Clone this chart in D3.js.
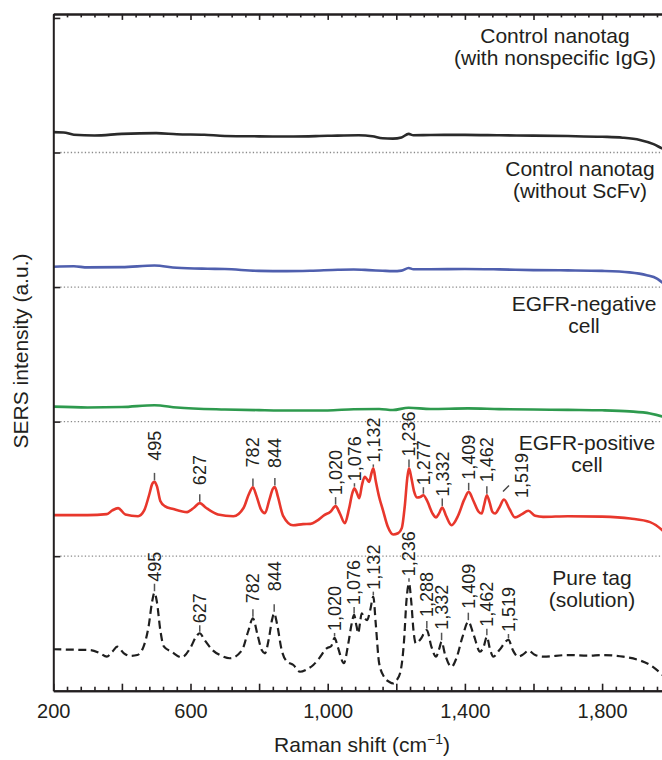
<!DOCTYPE html>
<html><head><meta charset="utf-8">
<script src="https://cdn.jsdelivr.net/npm/d3@7/dist/d3.min.js"></script>
<style>
body{margin:0;background:#fff}
svg{display:block}
text{font-family:"Liberation Sans",Arial,Helvetica,sans-serif;fill:#231f20}
</style>
</head><body>
<svg id="chart" width="662" height="760"></svg>
<script>
// ---------------- data ----------------
const xTickLabels = [200, 600, 1000, 1400, 1800];
const seriesNames = ["Pure tag (solution)", "EGFR-positive cell", "EGFR-negative cell", "Control nanotag (without ScFv)", "Control nanotag (with nonspecific IgG)"];

// [Raman shift (cm-1), SERS intensity (a.u., relative to own baseline)]
const pureTag = [[200,30.8],[250,30.5],[307,30.2],[335,28],[356,25.3],[372,29],[387,32.7],[405,28],[424,25.8],[445,26.5],[462,32],[478,48],[488,66],[495,72.8],[502,66],[512,45],[522,33],[545,29],[574,24.8],[600,32],[616,40],[627,42.7],[640,38],[665,30],[690,26],[715,24.1],[750,30],[768,44],[782,53.8],[795,42],[808,30],[817,27.8],[828,38],[838,53],[844,57.5],[852,50],[866,30],[880,22],[900,19.1],[919,14.1],[940,16],[958,19.1],[975,24],[997,31.5],[1010,33],[1020,39.2],[1030,32],[1047,20.4],[1060,35],[1070,50],[1077,56.3],[1084,48],[1089,42.7],[1094,50],[1099,57.5],[1107,54],[1115,52.5],[1124,60],[1133,69.9],[1140,50],[1150,20.4],[1165,10],[1180,6.5],[1191,5.5],[1200,7.5],[1211,12.9],[1222,35],[1230,68],[1237,79.8],[1244,65],[1250,45],[1257,35.2],[1270,38],[1289,45.1],[1302,33],[1316,25.3],[1325,31],[1332,36.4],[1342,27],[1361,17.8],[1375,24],[1393,40],[1410,51.3],[1425,42],[1444,29],[1455,33],[1464,40.1],[1473,31],[1483,25.3],[1500,30],[1527,37.7],[1540,30],[1555,25.3],[1570,27],[1585,29.7],[1605,26.5],[1629,25.3],[1700,26.5],[1760,26],[1800,26.5],[1861,25.3],[1910,22.5],[1940,19.1],[1975,12],[2000,6]];

const egfrPositive = [[200,30.5],[300,30.5],[356,31.2],[372,34],[389,35.7],[410,31],[447,29.7],[465,34],[480,46],[489,54],[495,55.2],[502,52],[512,41],[525,37.2],[550,35],[590,32.7],[610,36],[627,39.4],[645,36],[680,31],[725,29.7],[755,36],[770,46],[782,51.1],[792,45],[805,35],[817,32.0],[830,42],[840,50],[846,51.3],[855,44],[870,30],[899,23.0],[928,23.8],[950,24],[968,26.2],[990,30.5],[1008,33],[1023,37.2],[1035,32],[1050,24.5],[1062,35],[1072,47],[1078,50.5],[1085,47],[1092,43.1],[1100,53],[1108,59.0],[1115,57],[1121,55.2],[1128,62],[1133,65.2],[1140,56],[1150,44],[1161,34.2],[1175,22],[1191,16.1],[1205,17],[1216,20.8],[1225,38],[1232,58],[1237,65.2],[1244,58],[1252,48],[1261,43.6],[1270,44],[1279,45.3],[1290,41],[1305,32],[1316,28.8],[1325,32],[1334,36.2],[1345,30],[1361,23.0],[1380,30],[1398,42],[1411,47.8],[1425,41],[1440,33],[1449,31.7],[1456,38],[1464,45.3],[1472,40],[1480,33],[1488,31.7],[1500,36],[1514,42.1],[1530,35],[1546,28.8],[1565,31],[1585,33.7],[1605,30],[1628,29.2],[1700,29.7],[1800,29.4],[1882,28.0],[1940,25.3],[1975,19.3],[2000,11.9]];

const egfrNegative = [[200,11.1],[300,10.5],[400,10.8],[495,12.2],[560,10.5],[700,9.0],[800,8.5],[900,8.2],[1000,8.3],[1076,9.2],[1150,9.4],[1190,8.6],[1236,10.3],[1300,9.4],[1409,9.8],[1500,9.3],[1600,9.0],[1700,8.7],[1800,8.4],[1880,7.6],[1940,6.0],[1975,3.8],[2000,1.5]];

const controlNoScFv = [[200,15.1],[260,15.4],[300,14.6],[400,14.8],[495,16],[560,14.3],[650,13.6],[700,13.4],[800,12],[880,11.8],[950,12.1],[1030,12.8],[1076,13],[1120,12.6],[1160,12.1],[1190,11.8],[1215,12.2],[1236,14.2],[1250,13.2],[1300,13.2],[1400,13.4],[1500,13.1],[1600,12.6],[1700,12.4],[1800,12.0],[1880,10.9],[1930,8.8],[1960,6.3],[1975,3.5],[2000,0]];

const controlIgG = [[200,15.1],[230,14.9],[260,13.2],[320,12.6],[400,13.8],[500,14.4],[560,13.6],[640,13.2],[700,12.3],[800,12.0],[900,11.9],[1000,12.4],[1090,12.8],[1130,12.1],[1160,10.6],[1190,10.3],[1215,11.2],[1236,13.8],[1250,12.8],[1300,13.0],[1400,13.1],[1500,12.8],[1600,12.5],[1700,12.2],[1800,11.7],[1860,11.0],[1910,9.3],[1950,6.2],[1975,3.0],[2000,0]];

const seriesOffsets = [0, 100, 200, 300, 400];

// peak labels (cm-1)
const positivePeaks = [495, 627, 782, 844, 1020, 1076, 1132, 1236, 1277, 1332, 1409, 1462, 1519];
const tagPeaks = [495, 627, 782, 844, 1020, 1076, 1132, 1236, 1288, 1332, 1409, 1462, 1519];

// ---------------- layout ----------------
const W = 662, H = 760;
const X0 = 53.3, X1 = 670.7, YB = 690.7, YT = 13.9;
const FONT_LG = 21, FONT_TICK = 20, FONT_PEAK = 18;
const positiveLift = [21, 18, 20, 19, 11, 7, 6, 12, 10, 11, 12, 13, 0];
const tagLift = [11, 10, 15, 22, 7, 10, 7, 7, 13, 12, 13, 10, 8];
const nameLayout = [
  {lines:["Pure tag","(solution)"], x:592, y:585},
  {lines:["EGFR-positive","cell"], x:587, y:450},
  {lines:["EGFR-negative","cell"], x:584, y:311},
  {lines:["Control nanotag","(without ScFv)"], x:580, y:176},
  {lines:["Control nanotag","(with nonspecific IgG)"], x:555, y:43}
];
const styles = [
  {stroke:"#1f1f1f", width:2.2, dash:"8,4.5"},
  {stroke:"#e8372c", width:2.6, dash:null},
  {stroke:"#2e9a4e", width:2.6, dash:null},
  {stroke:"#4f5fae", width:2.6, dash:null},
  {stroke:"#2a2a2a", width:2.6, dash:null}
];

const svg = d3.select("#chart");
const x = d3.scaleLinear().domain([200, 2000]).range([X0, X1]);
const y = d3.scaleLinear().domain([0, 503]).range([YB, YT]);

svg.append("defs").append("clipPath").attr("id","plot")
  .append("rect").attr("x",X0).attr("y",YT).attr("width",X1-X0).attr("height",YB-YT);

// dotted baselines
svg.append("g").selectAll("line").data(seriesOffsets.filter(d=>d>0)).join("line")
  .attr("x1", X0+7).attr("x2", W).attr("y1", d=>y(d)).attr("y2", d=>y(d))
  .attr("stroke","#8a8a8a").attr("stroke-width",1.3).attr("stroke-dasharray","1.3,2.2");

// series
const allSeries = [pureTag, egfrPositive, egfrNegative, controlNoScFv, controlIgG];
const gLines = svg.append("g").attr("clip-path","url(#plot)");
allSeries.forEach((s,i)=>{
  const off = seriesOffsets[i];
  const line = d3.line().x(d=>x(d[0])).y(d=>y(d[1]+off)).curve(d3.curveMonotoneX);
  gLines.append("path").datum(s).attr("d",line).attr("fill","none")
    .attr("stroke",styles[i].stroke).attr("stroke-width",styles[i].width)
    .attr("stroke-linejoin","round").attr("stroke-linecap", styles[i].dash ? "butt" : "round")
    .attr("stroke-dasharray", styles[i].dash);
});

// axes
const minorTicks = d3.range(200, 2001, 40).filter(v=>v%200!==0);
const majorTicks = d3.range(200, 2001, 200);
function styleAxis(g){
  g.select(".domain").attr("stroke","#231f20").attr("stroke-width",2);
  g.selectAll(".tick line").attr("stroke","#231f20").attr("stroke-width",1.6);
}
svg.append("g").attr("transform",`translate(0,${YB})`)
  .call(d3.axisBottom(x).tickValues(minorTicks).tickSize(-4).tickSizeOuter(0).tickFormat(""))
  .call(styleAxis);
svg.append("g").attr("transform",`translate(0,${YB})`)
  .call(d3.axisBottom(x).tickValues(majorTicks).tickSize(-7).tickSizeOuter(0).tickFormat(""))
  .call(styleAxis);
svg.append("g").attr("transform",`translate(0,${YT})`)
  .call(d3.axisTop(x).tickValues(minorTicks).tickSize(-3.5).tickSizeOuter(0).tickFormat(""))
  .call(styleAxis);
svg.append("g").attr("transform",`translate(0,${YT})`)
  .call(d3.axisTop(x).tickValues(majorTicks).tickSize(-6).tickSizeOuter(0).tickFormat(""))
  .call(styleAxis);
svg.append("g").attr("transform",`translate(${X0},0)`)
  .call(d3.axisLeft(y).tickValues([100,200,300,400,500]).tickSize(-7).tickSizeOuter(0).tickFormat(""))
  .call(styleAxis);

// x tick labels
const labAxis = svg.append("g").attr("transform",`translate(0,${YB})`)
  .call(d3.axisBottom(x).tickValues(xTickLabels).tickSize(0).tickPadding(13).tickFormat(d3.format(",")));
labAxis.select(".domain").remove();
labAxis.selectAll("text").attr("font-size",FONT_TICK).attr("font-family",null).attr("fill","#231f20");

// axis titles
const xt = svg.append("text").attr("x",(X0+X1)/2).attr("y",752).attr("text-anchor","middle").attr("font-size",FONT_LG);
xt.append("tspan").text("Raman shift (cm");
xt.append("tspan").attr("dy",-8).attr("font-size",14).text("\u22121");
xt.append("tspan").attr("dy",8).text(")");
svg.append("text").attr("transform","translate(28,351) rotate(-90)").attr("text-anchor","middle")
  .attr("font-size",FONT_LG).text("SERS intensity (a.u.)");

// series names
nameLayout.forEach(n=>{
  const t = svg.append("text").attr("text-anchor","middle").attr("font-size",FONT_LG);
  n.lines.forEach((ln,k)=>t.append("tspan").attr("x",n.x).attr("y",n.y+k*22).text(ln));
});

// peak labels
function localMax(series, wn){
  let best = null;
  series.forEach(d=>{ if(Math.abs(d[0]-wn)<=12 && (!best || d[1]>best[1])) best=d; });
  return best;
}
const fmt = d3.format(",");
function drawPeaks(series, peaks, lifts, off){
  const g = svg.append("g");
  peaks.forEach((p,i)=>{
    const m = localMax(series,p);
    const px = x(m[0]), py = y(m[1]+off);
    if(lifts[i]===0){ // offset label with leader
      g.append("line").attr("x1",px-1).attr("y1",py-8).attr("x2",px+5).attr("y2",py-14)
        .attr("stroke","#444").attr("stroke-width",1.4);
      g.append("text").attr("transform",`translate(${px+18},${py-1.5}) rotate(-90)`)
        .attr("dy","0.35em").attr("font-size",FONT_PEAK).text(fmt(p));
      return;
    }
    const lift = lifts[i];
    g.append("line").attr("x1",px).attr("x2",px).attr("y1",py-1.5).attr("y2",py-Math.min(9,lift-2))
      .attr("stroke","#555").attr("stroke-width",1.5);
    g.append("text").attr("transform",`translate(${px},${py-lift}) rotate(-90)`)
      .attr("dy","0.35em").attr("font-size",FONT_PEAK).text(fmt(p));
  });
}
drawPeaks(egfrPositive, positivePeaks, positiveLift, seriesOffsets[1]);
drawPeaks(pureTag, tagPeaks, tagLift, seriesOffsets[0]);
</script>
</body></html>
